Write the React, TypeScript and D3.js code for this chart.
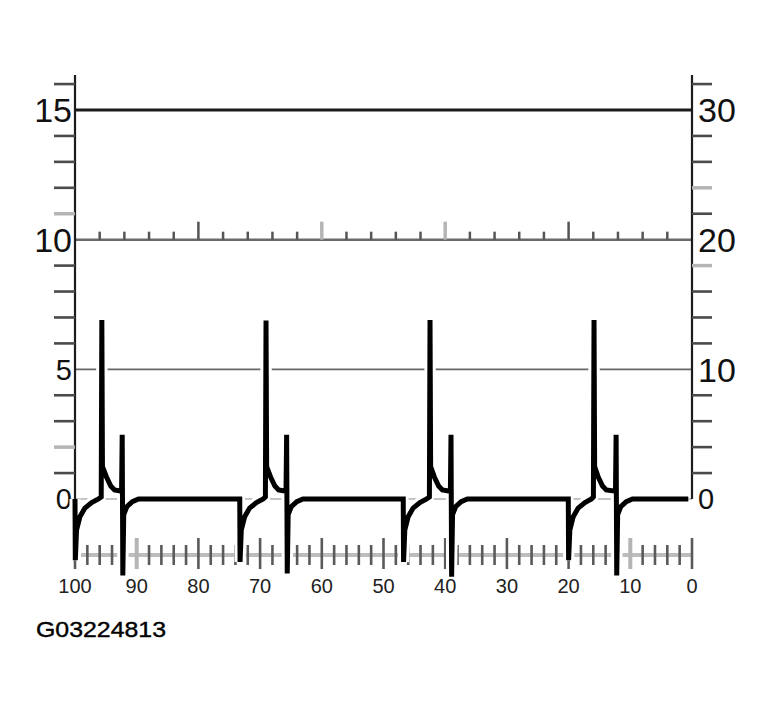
import * as d3 from "d3";

// waveform: [time, volts]
const cycle1: [number, number][] = [
  [100.0, 0.0], [99.95, -2.36], [99.75, -1.2], [99.2, -0.68], [98.4, -0.35],
  [97.3, -0.14], [96.2, 0.0], [95.75, 0.08], [95.65, 6.9], [95.55, 1.25],
  [94.9, 0.85], [94.2, 0.5], [93.6, 0.35], [92.45, 0.3], [92.35, 2.48],
  [92.25, -2.95], [92.1, -0.6], [91.6, -0.3], [90.7, -0.1], [89.7, 0.0],
];
const cycle2: [number, number][] = [
  [73.3, 0.0], [73.25, -2.43], [73.05, -1.2], [72.5, -0.68], [71.7, -0.35],
  [70.6, -0.14], [69.5, 0.0], [69.14, 0.08], [69.04, 6.88], [68.94, 1.25],
  [68.3, 0.85], [67.6, 0.5], [67.0, 0.35], [65.8, 0.3], [65.7, 2.48],
  [65.6, -2.87], [65.45, -0.6], [64.95, -0.3], [64.05, -0.1], [63.05, 0.0],
];
const cycle3: [number, number][] = [
  [46.8, 0.0], [46.75, -2.43], [46.55, -1.2], [46.0, -0.68], [45.2, -0.35],
  [44.1, -0.14], [43.0, 0.0], [42.56, 0.08], [42.46, 6.9], [42.36, 1.25],
  [41.76, 0.85], [41.06, 0.5], [40.46, 0.35], [39.16, 0.3], [39.06, 2.48],
  [38.96, -3.0], [38.81, -0.6], [38.31, -0.3], [37.41, -0.1], [36.41, 0.0],
];
const cycle4: [number, number][] = [
  [20.05, 0.0], [20.0, -2.36], [19.8, -1.2], [19.25, -0.68], [18.45, -0.35],
  [17.35, -0.14], [16.3, 0.0], [15.98, 0.08], [15.88, 6.9], [15.78, 1.25],
  [15.2, 0.85], [14.5, 0.5], [13.9, 0.35], [12.4, 0.3], [12.3, 2.48],
  [12.2, -2.95], [12.05, -0.6], [11.55, -0.3], [10.65, -0.1], [9.65, 0.0],
  [0.6, 0.0],
];
const wave = [...cycle1, ...cycle2, ...cycle3, ...cycle4];

const leftLabels = [0, 5, 10, 15];
const rightLabels = [0, 10, 20, 30];
const leftTicks = [1, 2, 3, 4, 6, 7, 8, 9, 11, 12, 13, 14, 16];
const rightTicks = [2, 4, 6, 8, 12, 14, 16, 18, 22, 24, 26, 28, 32];
const gridValues = [15, 10, 5, 0];
const midTicks = [96, 92, 88, 84, 80, 76, 72, 68, 64, 60, 56, 52, 48, 44, 40, 36, 32, 28, 24, 20, 16, 12, 8, 4];
const bottomTicks = d3.range(100, -1, -2);
const bottomLabels = [100, 90, 80, 70, 60, 50, 40, 30, 20, 10, 0];
const figureCode = "G03224813";

const W = 772;
const H = 714;
const yTop = 16.35; // top end of the vertical axes (left units)

const gridStyle: Record<number, { c: string; w: number }> = {
  15: { c: "#1c1c1c", w: 3 },
  10: { c: "#6a6a6a", w: 2.5 },
  5: { c: "#666", w: 1.8 },
  0: { c: "#8a8a8a", w: 1.2 },
};

const font = "'Liberation Sans', Arial, Helvetica, sans-serif";

export default function App() {
  const x = d3.scaleLinear().domain([100, 0]).range([75, 692]);
  const yL = d3.scaleLinear().domain([0, 15]).range([499, 110]);
  const yR = d3.scaleLinear().domain([0, 30]).range([499, 110]);

  const line = d3
    .line<[number, number]>()
    .x((d) => x(d[0]))
    .y((d) => yL(d[1]));
  const path = line(wave) ?? "";

  const xL = x(100);
  const xR = x(0);
  const rowY = 555; // bottom tick row
  const midY = yL(10);

  return (
    <svg
      width={W}
      height={H}
      style={{ position: "absolute", left: 0, top: 0, background: "#fff" }}
      fontFamily={font}
    >
      {/* gridlines */}
      {gridValues.map((v) => (
        <line
          key={"g" + v}
          x1={xL}
          x2={xR}
          y1={yL(v)}
          y2={yL(v)}
          stroke={gridStyle[v].c}
          strokeWidth={gridStyle[v].w}
        />
      ))}

      {/* small ticks on the 10 line */}
      {midTicks.map((t) => (
        <line
          key={"m" + t}
          x1={x(t)}
          x2={x(t)}
          y1={midY}
          y2={midY - (t % 20 === 0 ? 18 : 8)}
          stroke={t === 60 || t === 40 ? "#b5b5b5" : "#555"}
          strokeWidth={t === 60 || t === 40 ? 3.5 : 2.5}
        />
      ))}

      {/* bottom time ruler */}
      <line x1={xL} x2={xR} y1={rowY} y2={rowY} stroke="#bdbdbd" strokeWidth={4} />
      {bottomTicks.map((t) => {
        const tall = t % 10 === 0;
        return (
          <line
            key={"b" + t}
            x1={x(t)}
            x2={x(t)}
            y1={tall ? rowY - 17 : rowY - 10}
            y2={tall ? rowY + 14 : rowY + 10}
            stroke={t === 90 || t === 10 ? "#b5b5b5" : "#5a5a5a"}
            strokeWidth={t === 90 || t === 10 ? 4 : 2.6}
          />
        );
      })}
      {bottomLabels.map((t) => (
        <text key={"bl" + t} x={x(t)} y={593} fontSize={20} textAnchor="middle" fill="#222">
          {t}
        </text>
      ))}

      {/* axes */}
      <line x1={xL} x2={xL} y1={yL(yTop)} y2={yL(0)} stroke="#1c1c1c" strokeWidth={2.2} />
      <line x1={xR} x2={xR} y1={yL(yTop)} y2={yL(0)} stroke="#1c1c1c" strokeWidth={2.2} />
      {leftTicks.map((t) => (
        <line
          key={"lt" + t}
          x1={xL - 21}
          x2={xL}
          y1={yL(t)}
          y2={yL(t)}
          stroke={t === 11 || t === 2 ? "#b5b5b5" : "#4a4a4a"}
          strokeWidth={t === 11 || t === 2 ? 3.5 : 2.6}
        />
      ))}
      {rightTicks.map((t) => (
        <line
          key={"rt" + t}
          x1={xR}
          x2={xR + 20}
          y1={yR(t)}
          y2={yR(t)}
          stroke={t === 24 || t === 18 ? "#b5b5b5" : "#4a4a4a"}
          strokeWidth={t === 24 || t === 18 ? 3.5 : 2.6}
        />
      ))}
      {leftLabels.map((v) => (
        <text
          key={"ll" + v}
          x={72}
          y={yL(v)}
          dy="0.36em"
          fontSize={v >= 10 ? 34 : 29}
          textAnchor="end"
          fill="#111"
        >
          {v}
        </text>
      ))}
      {rightLabels.map((v) => (
        <text
          key={"rl" + v}
          x={698}
          y={yR(v)}
          dy="0.36em"
          fontSize={v >= 10 ? 34 : 29}
          textAnchor="start"
          fill="#111"
        >
          {v}
        </text>
      ))}

      {/* waveform with white halo */}
      <path d={path} fill="none" stroke="#fff" strokeWidth={11} strokeLinejoin="bevel" strokeLinecap="butt" />
      <path d={path} fill="none" stroke="#000" strokeWidth={5} strokeLinejoin="miter" strokeLinecap="butt" />

      <text x={36} y={637} fontSize={22} textLength={130} lengthAdjust="spacingAndGlyphs" fill="#000" stroke="#000" strokeWidth={0.4}>
        {figureCode}
      </text>
    </svg>
  );
}
